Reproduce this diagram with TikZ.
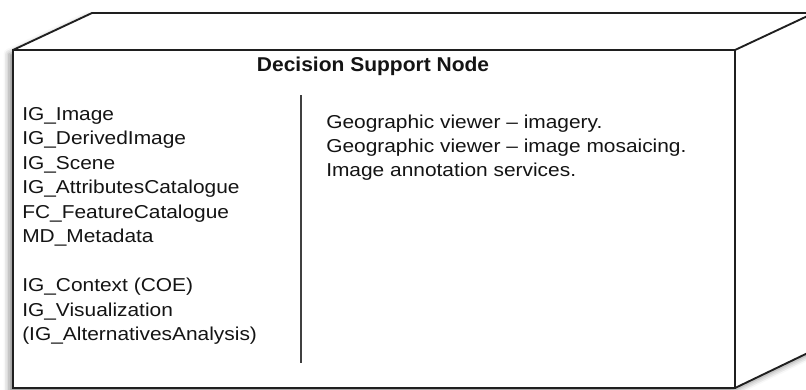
\documentclass[tikz,border=0pt]{standalone}
\usepackage{fontspec}
\setmainfont{Liberation Sans}[FakeStretch=1.12]
\newfontfamily\headfont{Liberation Sans}[FakeStretch=1.05]
\usetikzlibrary{shadows.blur}

\begin{document}
\begin{tikzpicture}[x=0.75pt, y=-0.75pt,
  edge/.style={line width=1.4pt, draw=black!88, line join=miter},
  divider/.style={line width=1.5pt, draw=black!75},
  txt/.style={anchor=base west, inner sep=0pt, text=black!92,
              font=\fontsize{14}{17}\selectfont},
  heading/.style={anchor=base, inner sep=0pt, text=black!92,
              font=\headfont\fontsize{15}{18}\selectfont\bfseries}]
\useasboundingbox (0,0) rectangle (806,389);
\begin{scope}
  \clip (0,0) rectangle (806,389);
  % corners of the 3D node box
  \coordinate (ftl) at (13,50);
  \coordinate (ftr) at (735,50);
  \coordinate (fbr) at (735,388);
  \coordinate (fbl) at (13,388);
  \coordinate (btl) at (92,13);
  \coordinate (btr) at (814,13);
  \coordinate (bbr) at (814,350);
  % body with soft shadow
  \fill[white, blur shadow={shadow xshift=-3pt, shadow yshift=-3pt,
        shadow blur radius=4pt, shadow opacity=45}]
    (ftl) -- (btl) -- (btr) -- (bbr) -- (fbr) -- (fbl) -- cycle;
  % front face
  \draw[edge] (ftl) -- (ftr) -- (fbr) -- (fbl) -- cycle;
  % top and side faces
  \draw[edge] (ftl) -- (btl) -- (btr) -- (bbr) -- (fbr);
  \draw[edge] (ftr) -- (btr);
\end{scope}

% title
\node[heading] (title) at (373,71) {Decision Support Node};

% column separator
\coordinate (dtop) at (301,95);
\coordinate (dbot) at (301,363);
\draw[divider] (dtop) -- (dbot);

% left compartment
\node[txt] (l1) at (22,120.0) {IG\_Image};
\node[txt] (l2) at (22,144.5) {IG\_DerivedImage};
\node[txt] (l3) at (22,169.0) {IG\_Scene};
\node[txt] (l4) at (22,193.5) {IG\_AttributesCatalogue};
\node[txt] (l5) at (22,218.0) {FC\_FeatureCatalogue};
\node[txt] (l6) at (22,242.5) {MD\_Metadata};
\node[txt] (l7) at (22,291.5) {IG\_Context (COE)};
\node[txt] (l8) at (22,316.0) {IG\_Visualization};
\node[txt] (l9) at (22,340.5) {(IG\_AlternativesAnalysis)};

% right compartment
\node[txt] (r1) at (326,128.5) {Geographic viewer – imagery.};
\node[txt] (r2) at (326,152.5) {Geographic viewer – image mosaicing.};
\node[txt] (r3) at (326,176.5) {Image annotation services.};
\end{tikzpicture}
\end{document}
